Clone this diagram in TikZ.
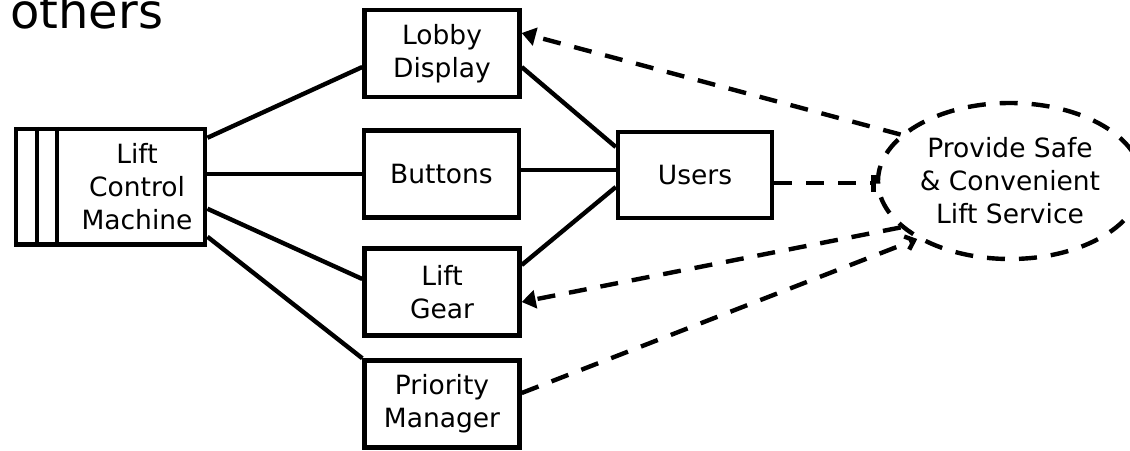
\documentclass[tikz,border=0pt]{standalone}
\usepackage{fontspec}
\setmainfont{DejaVu Sans}
\usetikzlibrary{shapes.geometric,arrows.meta,calc}

\tikzset{
  unit/.style={draw, line width=4.4pt, minimum width=155pt, minimum height=87pt,
               inner sep=0pt, align=center, font=\fontsize{26.5}{33}\selectfont},
  goal/.style={draw, ellipse, line width=4.4pt, minimum width=264pt, minimum height=156pt,
               inner sep=0pt, align=center, font=\fontsize{26.5}{33}\selectfont,
               dash pattern=on 18pt off 14pt},
  link/.style={line width=4.4pt},
  dep/.style={line width=4.4pt, dash pattern=on 18pt off 14pt},
}

\begin{document}
\begin{tikzpicture}[x=1pt, y=-1pt]
  \useasboundingbox (0,0) rectangle (1130,450);

  % heading, partly above the page
  \node[anchor=base west, inner sep=0pt, font=\fontsize{48}{56}\selectfont] (title) at (10,28) {others};

  % machine block with its two side bars
  \node[draw, line width=4.4pt, minimum width=189pt, minimum height=115.5pt, inner sep=0pt] (m) at (110.75,186.75) {};
  \draw[link] ([xshift=23pt]m.north west) -- ([xshift=23pt]m.south west);
  \draw[link] ([xshift=43pt]m.north west) -- ([xshift=43pt]m.south west);
  \node[align=center, inner sep=0pt, font=\fontsize{26.5}{33}\selectfont] (mt) at (137,187) {Lift\\Control\\Machine};

  % domains
  \node[unit] (l) at (442,53.5) {Lobby\\Display};
  \node[unit] (b) at (441.5,174) {Buttons};
  \node[unit] (g) at (442,292) {Lift\\Gear};
  \node[unit] (p) at (442,404) {Priority\\Manager};
  \node[unit, minimum width=154pt, minimum height=86pt] (u) at (695,175) {Users};

  % requirement
  \node[goal] (e) at (1010,181) {Provide Safe\\\& Convenient\\Lift Service};

  % interfaces
  \draw[link] ([yshift=49pt]m.east) -- ([yshift=-13.5pt]l.west);
  \draw[link] (b.west -| m.east) -- (b.west);
  \draw[link] ([yshift=-22pt]m.east) -- ([yshift=13pt]g.west);
  \draw[link] ([yshift=-50pt]m.east) -- (p.north west);
  \draw[link] ([yshift=-13.5pt]l.east) -- ([yshift=28pt]u.west);
  \draw[link] ([yshift=4pt]b.east) -- ([yshift=4pt]b.east -| u.west);
  \draw[link] ([yshift=27pt]g.east) -- ([yshift=-12pt]u.west);

  % requirement references and constraints
  \draw[dep, -{Triangle[length=14pt,width=18pt]}] (e.157) -- ([yshift=20.5pt]l.east);
  \draw[dep, -{Bar[width=17pt]}] ([yshift=-8pt]u.east) -- ([yshift=-8pt]u.east -| e.west);
  \draw[dep, -{Triangle[length=14pt,width=18pt]}] (e.203) -- ([yshift=-10pt]g.east);
  \draw[dep, -{Straight Barb[length=8pt,width=14pt]}] ([yshift=11pt]p.east) -- (e.212);
\end{tikzpicture}
\end{document}
